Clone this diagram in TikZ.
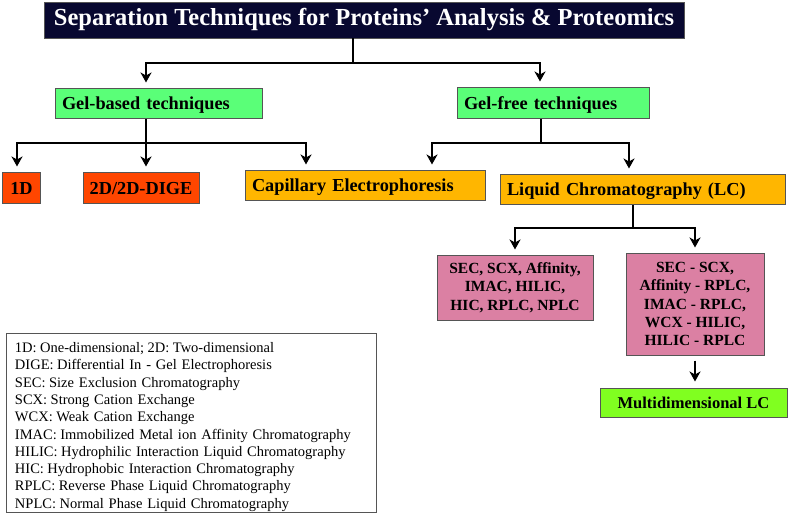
\documentclass[tikz,border=0pt]{standalone}
\usepackage{fontspec}
\setmainfont{Liberation Serif}
\usetikzlibrary{arrows.meta}
\definecolor{navy}{RGB}{8,8,48}
\definecolor{gelgreen}{RGB}{90,255,120}
\definecolor{redor}{RGB}{255,70,0}
\definecolor{gold}{RGB}{255,182,0}
\definecolor{pinkbox}{RGB}{219,128,163}
\definecolor{limeg}{RGB}{128,255,32}
\definecolor{edge}{RGB}{85,85,85}
\newcommand{\bigsp}{\spaceskip=0.7em plus 0.1em minus 0.05em\relax}
\newcommand{\legsp}{\spaceskip=0.5em plus 0.1em minus 0.05em\relax}
\newcommand{\nsp}{\hspace{3.5pt}}
\begin{document}
\begin{tikzpicture}[x=1pt,y=-1pt,
  boxbase/.style={draw=edge,line width=1pt,rectangle,inner ysep=0pt,inner xsep=7pt,align=left,
     text height=14pt,text depth=1pt},
  bigtxt/.style={font=\bfseries\fontsize{18.3}{21}\selectfont\bigsp},
  pinktxt/.style={draw=edge,line width=1pt,fill=pinkbox,align=center,inner sep=0pt,
     font=\bfseries\fontsize{15.5}{18.3}\selectfont},
  ln/.style={line width=2pt,black},
  arr/.style={line width=2pt,black,-{Stealth[length=10pt,width=11pt,inset=3pt]},shorten >=5pt}
]
\useasboundingbox (0,0) rectangle (788,517);
\fill[white] (0,0) rectangle (788,517);

% boxes
\node[draw=edge,fill=navy,text=white,minimum width=640pt,minimum height=36pt,inner sep=0pt,
  font=\bfseries\fontsize{24.5}{28}\selectfont] (title) at (364,20)
  {Separation Techniques for Proteins’ Analysis \& Proteomics};

\node[boxbase,bigtxt,fill=gelgreen,text width=193pt,minimum height=30pt] (gelb) at (158.5,103) {Gel-based techniques};
\node[boxbase,bigtxt,fill=gelgreen,text width=178pt,minimum height=31pt] (gelf) at (553,102.5) {Gel-free techniques};

\node[boxbase,bigtxt,fill=redor,inner xsep=0pt,text width=38pt,align=center,minimum height=31pt] (d1) at (21.5,187.5) {1D};
\node[boxbase,bigtxt,fill=redor,inner xsep=0pt,text width=116pt,align=center,minimum height=31pt] (d2) at (141,187.5) {2D/2D-DIGE};
\node[boxbase,bigtxt,fill=gold,text width=226pt,minimum height=30pt] (ce) at (365,185) {Capillary Electrophoresis};
\node[boxbase,bigtxt,fill=gold,text width=271pt,minimum height=30pt] (lc) at (642.5,189) {Liquid Chromatography (LC)};

\node[pinktxt,minimum width=156pt,minimum height=65pt] (pl) at (515,287.5)
  {SEC, SCX, Affinity,\\IMAC, HILIC,\\HIC, RPLC, NPLC};
\node[pinktxt,minimum width=138pt,minimum height=102pt] (pr) at (695,304)
  {SEC - SCX,\\Affinity - RPLC,\\IMAC - RPLC,\\WCX - HILIC,\\HILIC - RPLC};

\node[draw=edge,line width=1pt,fill=limeg,minimum width=187pt,minimum height=29pt,inner sep=0pt,
  font=\bfseries\fontsize{16.5}{19}\selectfont] (md) at (693.5,402.5) {Multidimensional LC};

\node[draw=edge,line width=1pt,fill=white,text width=352pt,inner xsep=9pt,inner ysep=0pt,minimum height=179pt,align=left,
  font=\fontsize{14.5}{17.3}\selectfont\legsp] (leg) at (191,422.5)
  {\rule{0pt}{19pt}1D:\nsp One-dimensional;\nsp 2D:\nsp Two-dimensional\\
   DIGE:\nsp Differential In - Gel Electrophoresis\\
   SEC:\nsp Size Exclusion Chromatography\\
   SCX:\nsp Strong Cation Exchange\\
   WCX:\nsp Weak Cation Exchange\\
   IMAC:\nsp Immobilized Metal ion Affinity Chromatography\\
   HILIC:\nsp Hydrophilic Interaction Liquid Chromatography\\
   HIC:\nsp Hydrophobic Interaction Chromatography\\
   RPLC:\nsp Reverse Phase Liquid Chromatography\\
   NPLC:\nsp Normal Phase Liquid Chromatography};

% junction coordinates
\coordinate (j0) at (353,63);
\coordinate (jA) at (146,63);
\coordinate (jB) at (540,63);
\coordinate (k0) at (146,143);
\coordinate (kA) at (17,143);
\coordinate (kC) at (306,143);
\coordinate (m0) at (541,143);
\coordinate (mA) at (432,143);
\coordinate (mB) at (629,143);
\coordinate (n0) at (633,228);
\coordinate (nA) at (515,228);
\coordinate (nB) at (695,228);

% connectors
\draw[ln] (title.south -| j0) -- (j0);
\draw[arr] (j0) -| (gelb.north -| jA);
\draw[arr] (j0) -| (gelf.north -| jB);

\draw[ln] (gelb.south -| k0) -- (k0);
\draw[arr] (k0) -| (d1.north -| kA);
\draw[arr] (k0) -- (d2.north -| k0);
\draw[arr] (k0) -| (ce.north -| kC);

\draw[ln] (gelf.south -| m0) -- (m0);
\draw[arr] (m0) -| (ce.north -| mA);
\draw[arr] (m0) -| (lc.north -| mB);

\draw[ln] (lc.south -| n0) -- (n0);
\draw[arr] (n0) -| (pl.north -| nA);
\draw[arr] (n0) -| (pr.north -| nB);

\draw[arr,shorten <=5pt,shorten >=6pt] (pr.south) -- (md.north -| pr.south);
\end{tikzpicture}
\end{document}
